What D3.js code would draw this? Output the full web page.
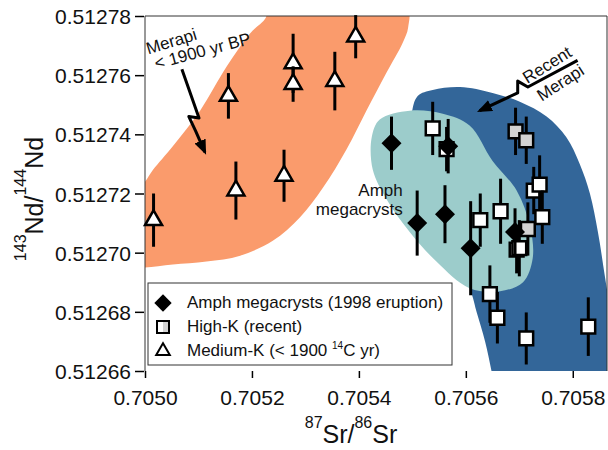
<!DOCTYPE html>
<html lang="en">
<head>
<meta charset="UTF-8">
<title>Merapi Sr-Nd isotopes</title>
<script src="https://d3js.org/d3.v7.min.js"></script>
<style>
  body { margin: 0; background: #fff; }
  svg { font-family: "Liberation Sans", Arial, sans-serif; }
</style>
</head>
<body>
<div id="chart"></div>
<script>
// Medium-K (< 1900 14C yr)
const medKSr  = [0.705016, 0.705156, 0.705170, 0.705260, 0.705277, 0.705277, 0.705355, 0.705394];
const medKNd  = [0.512711, 0.512753, 0.512721, 0.512726, 0.512764, 0.512757, 0.512758, 0.512773];
const medKErr = [0.0000090, 0.0000077, 0.0000098, 0.0000088, 0.0000100, 0.0000060, 0.0000099, 0.0000073];

// Amph megacrysts (1998 eruption)
const amphSr  = [0.705461, 0.705567, 0.705509, 0.705561, 0.705609, 0.705692];
const amphNd  = [0.512737, 0.512736, 0.512710, 0.512713, 0.5127015, 0.512707];
const amphErr = [0.0000090, 0.0000092, 0.0000110, 0.0000098, 0.0000159, 0.0000080];

// High-K (recent); gray = 1 for the shaded squares
const highKSr   = [0.705538, 0.705564, 0.705693, 0.705713, 0.705727, 0.705738, 0.705743, 0.705627,
                   0.705665, 0.705695, 0.705700, 0.705716, 0.705645, 0.705659, 0.705713, 0.705829];
const highKNd   = [0.512742, 0.512735, 0.512741, 0.512738, 0.512721, 0.512723, 0.512712, 0.512711,
                   0.512714, 0.512701, 0.5127015, 0.512708, 0.512686, 0.512678, 0.512671, 0.512675];
const highKErr  = [0.0000090, 0.0000075, 0.0000080, 0.0000080, 0.0000080, 0.0000099, 0.0000090, 0.0000090,
                   0.0000110, 0.0000080, 0.0000095, 0.0000090, 0.0000097, 0.0000087, 0.0000088, 0.0000099];
const highKGray = [0, 0, 1, 1, 0, 0, 0, 0, 0, 0, 0, 1, 0, 0, 0, 0];

const xTicks = [0.7050, 0.7052, 0.7054, 0.7056, 0.7058];
const yTicks = [0.51266, 0.51268, 0.51270, 0.51272, 0.51274, 0.51276, 0.51278];

// field outlines, [Sr, Nd]
const oldField = [
  [0.704972, 0.512695], [0.705000, 0.512695], [0.705052, 0.512696], [0.705115, 0.512697],
  [0.705178, 0.512699], [0.705239, 0.512704], [0.705290, 0.512712], [0.705333, 0.512722],
  [0.705377, 0.512735], [0.705414, 0.512748], [0.705452, 0.512761], [0.705482, 0.512771],
  [0.705492, 0.512776], [0.705488, 0.512784], [0.705219, 0.512784], [0.705227, 0.512780],
  [0.705196, 0.512774], [0.705153, 0.512763], [0.705103, 0.512748], [0.705052, 0.512736],
  [0.705015, 0.512728], [0.705000, 0.512724], [0.704972, 0.512719]
];
const recentField = [
  [0.705501, 0.512738], [0.705499, 0.512747], [0.705510, 0.512753], [0.705538, 0.512755],
  [0.705589, 0.512756], [0.705650, 0.512754], [0.705701, 0.512751], [0.705751, 0.512746],
  [0.705788, 0.512739], [0.705813, 0.512730], [0.705832, 0.512720], [0.705847, 0.512707],
  [0.705860, 0.512692], [0.705873, 0.512677], [0.705888, 0.512654], [0.705654, 0.512654],
  [0.705648, 0.512660], [0.705636, 0.512670], [0.705620, 0.512680], [0.705611, 0.512686],
  [0.705579, 0.512701], [0.705533, 0.512718]
];
const amphField = [
  [0.705424, 0.512739], [0.705439, 0.512745], [0.705495, 0.512748], [0.705557, 0.512747],
  [0.705607, 0.512743], [0.705650, 0.512731], [0.705695, 0.512721], [0.705720, 0.512709],
  [0.705725, 0.512698], [0.705707, 0.512690], [0.705664, 0.512687], [0.705607, 0.512688],
  [0.705545, 0.512697], [0.705495, 0.512707], [0.705452, 0.512718], [0.705426, 0.512728]
];

// annotation arrows, [Sr, Nd]
const oldArrow = [[0.705069, 0.512762], [0.705101, 0.5127455], [0.705082, 0.512746], [0.705095, 0.512741], [0.705112, 0.512734]];
const recentArrow = [[0.705809, 0.512765], [0.705716, 0.512756], [0.705697, 0.512758], [0.705697, 0.512754], [0.705626, 0.512748]];

const width = 608, height = 450;
const margin = { top: 16, right: 1, bottom: 79, left: 145 };

const svg = d3.select('#chart').append('svg')
  .attr('width', width)
  .attr('height', height);

const x = d3.scaleLinear().domain([0.7050, 0.705864]).range([margin.left, width - margin.right]);
const y = d3.scaleLinear().domain([0.51266, 0.51278]).range([height - margin.bottom, margin.top]);

svg.append('defs').append('clipPath').attr('id', 'plotclip')
  .append('rect')
  .attr('x', margin.left).attr('y', margin.top)
  .attr('width', width - margin.right - margin.left)
  .attr('height', height - margin.bottom - margin.top);

svg.select('defs').append('marker')
  .attr('id', 'ah')
  .attr('viewBox', '0 0 15 12')
  .attr('refX', 12).attr('refY', 6)
  .attr('markerWidth', 15).attr('markerHeight', 12)
  .attr('markerUnits', 'userSpaceOnUse')
  .attr('orient', 'auto')
  .append('path').attr('d', 'M0,0L15,6L0,12Z').attr('fill', '#000');

// fields
const area = d3.line().x(d => x(d[0])).y(d => y(d[1])).curve(d3.curveCatmullRomClosed.alpha(0.5));
const fields = svg.append('g').attr('clip-path', 'url(#plotclip)');
fields.append('path').attr('d', area(oldField)).attr('fill', '#fa9b6c');
fields.append('path').attr('d', area(recentField)).attr('fill', '#336699');
fields.append('path').attr('d', area(amphField)).attr('fill', '#9ccccb');

// frame
svg.append('path')
  .attr('d', `M${x.range()[0]},${y.range()[0]}V${y.range()[1]}H${x.range()[1]}V${y.range()[0]}`)
  .attr('fill', 'none').attr('stroke', '#333').attr('stroke-width', 1);

// axes
const yAxis = svg.append('g')
  .attr('transform', `translate(${margin.left - 1},0)`)
  .call(d3.axisLeft(y).tickValues(yTicks).tickFormat(d3.format('.5f')).tickSize(9).tickPadding(4));
const xAxis = svg.append('g')
  .attr('transform', `translate(0,${height - margin.bottom})`)
  .call(d3.axisBottom(x).tickValues(xTicks).tickFormat(d3.format('.4f')).tickSize(7).tickPadding(12));
[yAxis, xAxis].forEach(g => {
  g.select('.domain').remove();
  g.selectAll('.tick line').attr('stroke', '#000').attr('stroke-width', 1.5);
  g.selectAll('.tick text').attr('font-size', 21).attr('fill', '#111').attr('font-family', '"Liberation Sans", Arial, sans-serif');
});
yAxis.selectAll('.tick text').attr('dy', '0.36em');

// axis titles
const yTitle = svg.append('text')
  .attr('transform', 'translate(43,199) rotate(-90)')
  .attr('text-anchor', 'middle').attr('fill', '#111');
yTitle.append('tspan').attr('font-size', 16).attr('dy', -17).text('143');
yTitle.append('tspan').attr('font-size', 25).attr('dy', 17).text('Nd/');
yTitle.append('tspan').attr('font-size', 16).attr('dy', -17).text('144');
yTitle.append('tspan').attr('font-size', 25).attr('dy', 17).text('Nd');

const xTitle = svg.append('text')
  .attr('transform', 'translate(351,443)')
  .attr('text-anchor', 'middle').attr('fill', '#111');
xTitle.append('tspan').attr('font-size', 16).attr('dy', -15).text('87');
xTitle.append('tspan').attr('font-size', 25).attr('dy', 15).text('Sr/');
xTitle.append('tspan').attr('font-size', 16).attr('dy', -15).text('86');
xTitle.append('tspan').attr('font-size', 25).attr('dy', 15).text('Sr');

// annotations
const arrowLine = d3.line().x(d => x(d[0])).y(d => y(d[1]));
[oldArrow, recentArrow].forEach(a => {
  svg.append('path').attr('d', arrowLine(a))
    .attr('fill', 'none').attr('stroke', '#000').attr('stroke-width', 3)
    .attr('stroke-linejoin', 'round').attr('marker-end', 'url(#ah)');
});

function label(sr, nd, angle, txt, anchor) {
  svg.append('text')
    .attr('transform', `translate(${x(sr)},${y(nd)}) rotate(${angle})`)
    .attr('text-anchor', anchor || 'start')
    .attr('font-size', 17).attr('fill', '#111')
    .text(txt);
}
label(0.705006, 0.512767, -17, 'Merapi');
label(0.705021, 0.512762, -15, '< 1900 yr BP');
label(0.705715, 0.512757, -32, 'Recent');
label(0.705742, 0.512751, -33, 'Merapi');
label(0.705482, 0.512719, 0, 'Amph', 'end');
label(0.705482, 0.5127128, 0, 'megacrysts', 'end');

// data
const sq = d3.symbol().type(d3.symbolSquare).size(190);
const dia = d3.symbol().type(d3.symbolSquare).size(200);
const tri = d3.symbol().type(d3.symbolTriangle).size(125);

function errBars(g, data) {
  g.selectAll('line.err').data(data).join('line')
    .attr('class', 'err')
    .attr('x1', d => x(d.sr)).attr('x2', d => x(d.sr))
    .attr('y1', d => y(d.nd - d.err)).attr('y2', d => y(d.nd + d.err))
    .attr('stroke', '#000').attr('stroke-width', 3);
}

const highK = highKSr.map((s, i) => ({ sr: s, nd: highKNd[i], err: highKErr[i], gray: highKGray[i] }));
const amph = amphSr.map((s, i) => ({ sr: s, nd: amphNd[i], err: amphErr[i] }));
const medK = medKSr.map((s, i) => ({ sr: s, nd: medKNd[i], err: medKErr[i] }));

const gH = svg.append('g');
highK.forEach(d => {
  errBars(gH.append('g'), [d]);
  gH.append('path').attr('d', sq())
    .attr('transform', `translate(${x(d.sr)},${y(d.nd)})`)
    .attr('fill', d.gray ? '#d3d3d3' : '#fff')
    .attr('stroke', '#000').attr('stroke-width', 2.5);
});
const gA = svg.append('g');
amph.forEach(d => {
  errBars(gA.append('g'), [d]);
  gA.append('path').attr('d', dia())
    .attr('transform', `translate(${x(d.sr)},${y(d.nd)}) rotate(45)`)
    .attr('fill', '#000');
});
const gM = svg.append('g');
medK.forEach(d => {
  errBars(gM.append('g'), [d]);
  gM.append('path').attr('d', tri())
    .attr('transform', `translate(${x(d.sr)},${y(d.nd)})`)
    .attr('fill', '#fff')
    .attr('stroke', '#000').attr('stroke-width', 2.5);
});

// legend
const lg = svg.append('g').attr('transform', 'translate(148,283)');
lg.append('rect').attr('width', 304).attr('height', 82)
  .attr('fill', '#fff').attr('stroke', '#333').attr('stroke-width', 1);
lg.append('path').attr('d', d3.symbol().type(d3.symbolSquare).size(150)())
  .attr('transform', 'translate(15,20) rotate(45)').attr('fill', '#000');
lg.append('rect').attr('x', 9).attr('y', 38).attr('width', 12).attr('height', 12)
  .attr('fill', '#fff').attr('stroke', '#000').attr('stroke-width', 2);
lg.append('rect').attr('x', 15).attr('y', 39).attr('width', 5).attr('height', 10).attr('fill', '#d3d3d3');
lg.append('path').attr('d', d3.symbol().type(d3.symbolTriangle).size(80)())
  .attr('transform', 'translate(15,68)').attr('fill', '#fff')
  .attr('stroke', '#000').attr('stroke-width', 2);

const lt = (yy) => lg.append('text').attr('x', 39).attr('y', yy).attr('font-size', 17).attr('fill', '#111');
lt(25).text('Amph megacrysts (1998 eruption)');
lt(49).text('High-K (recent)');
const t3 = lt(73);
t3.append('tspan').text('Medium-K (< 1900 ');
t3.append('tspan').attr('font-size', 10).attr('dy', -7).text('14');
t3.append('tspan').attr('dy', 7).text('C yr)');
</script>
</body>
</html>
